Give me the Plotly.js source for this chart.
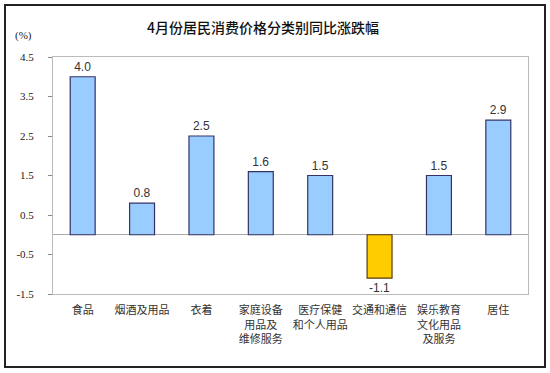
<!DOCTYPE html>
<html><head><meta charset="utf-8">
<script src="https://cdn.plot.ly/plotly-3.0.1.min.js"></script>
<style>
html,body{margin:0;padding:0;background:#fff;}
#wrap{position:relative;width:550px;height:373px;}
#chart{width:550px;height:373px;}
#frame{position:absolute;left:4px;top:4px;width:538px;height:360px;border:2px solid #222;pointer-events:none;}
</style></head>
<body>
<div id="wrap"><div id="chart"></div><div id="frame"></div></div>
<script>
const categories = ["食品","烟酒及用品","衣着","家庭设备<br>用品及<br>维修服务","医疗保健<br>和个人用品","交通和通信","娱乐教育<br>文化用品<br>及服务","居住"];
const values = [4.0, 0.8, 2.5, 1.6, 1.5, -1.1, 1.5, 2.9];
const yTicks = [4.5, 3.5, 2.5, 1.5, 0.5, -0.5, -1.5];
const titleText = "4月份居民消费价格分类别同比涨跌幅";
const unitText = "(%)";

const fills = values.map(v => v < 0 ? "#FFCC00" : "#99CCFF");
const lines = values.map(v => v < 0 ? "#5a3a10" : "#333366");

const trace = {
  type: "bar",
  x: categories,
  y: values,
  marker: {color: fills, line: {color: lines, width: 1.2}},
  text: values.map(v => v.toFixed(1)),
  textposition: "outside",
  cliponaxis: false,
  textfont: {family: "Liberation Sans, Arial, sans-serif", size: 12, color: "#333"},
  hoverinfo: "none"
};

const layout = {
  width: 550, height: 373,
  margin: {l: 53, r: 22, t: 57, b: 79},
  paper_bgcolor: "#fff", plot_bgcolor: "#fff",
  showlegend: false,
  bargap: 0.58,
  title: {text: titleText, x: 0.478, xanchor: "center", y: 0.925, yanchor: "middle",
          font: {family: "Noto Sans CJK SC, sans-serif", size: 14, color: "#111", weight: 500}},
  xaxis: {
    type: "category",
    showline: true, linecolor: "#bbbbbb", linewidth: 1, mirror: true,
    ticks: "", tickfont: {family: "Noto Sans CJK SC, sans-serif", size: 11, color: "#333"},
    ticklabelstandoff: 6, tickangle: 0
  },
  yaxis: {
    range: [-1.5, 4.5],
    tickvals: yTicks,
    ticktext: yTicks.map(v => v.toFixed(1).replace(/\.0$/, "")),
    showgrid: false,
    zeroline: true, zerolinecolor: "#aaaaaa", zerolinewidth: 1,
    showline: true, linecolor: "#bbbbbb", linewidth: 1, mirror: true,
    ticks: "outside", ticklen: 4, tickcolor: "#888",
    tickfont: {family: "Liberation Serif, Times New Roman, serif", size: 11, color: "#222"},
    ticklabelstandoff: 12
  },
  annotations: [{
    text: unitText, xref: "paper", yref: "paper", x: -0.04, y: 1.09,
    xanchor: "right", yanchor: "middle", showarrow: false,
    font: {family: "Liberation Serif, Times New Roman, serif", size: 11, color: "#222"}
  }]
};

Plotly.newPlot("chart", [trace], layout, {staticPlot: true, displayModeBar: false});
</script>
</body></html>
